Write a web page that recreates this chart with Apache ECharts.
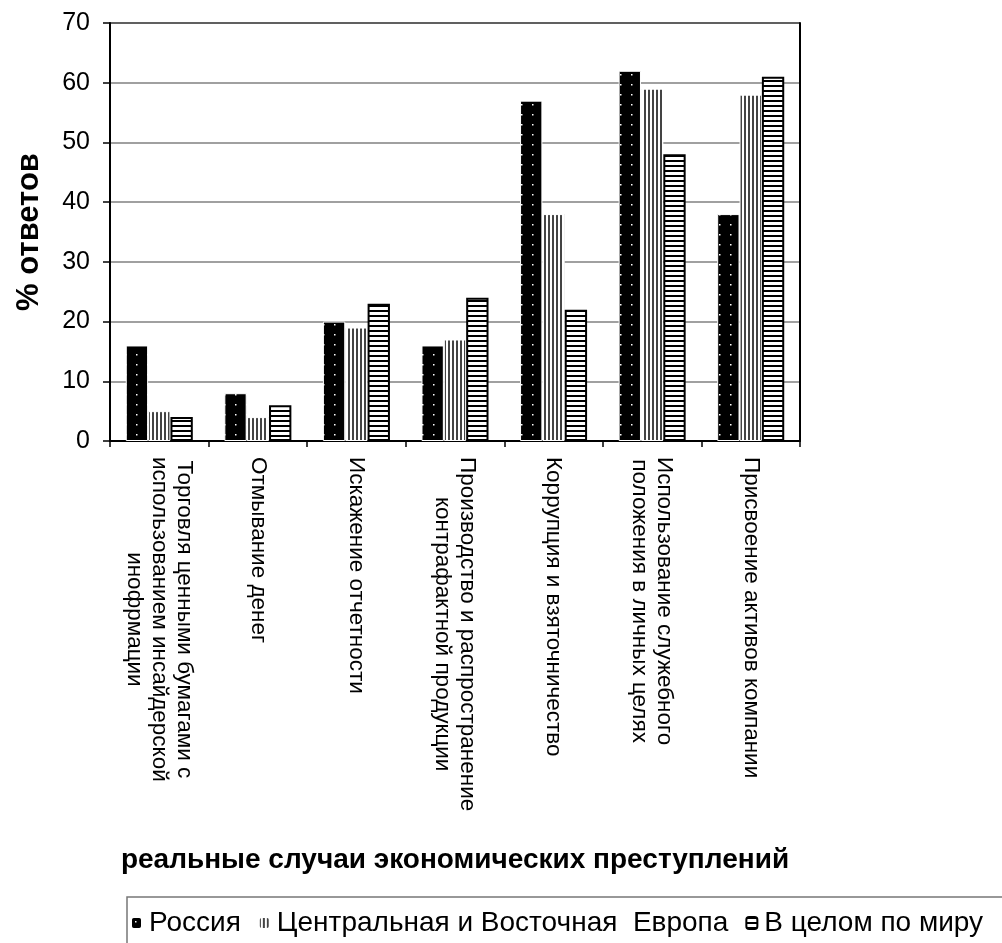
<!DOCTYPE html>
<html>
<head>
<meta charset="utf-8">
<script src="https://cdn.jsdelivr.net/npm/echarts@6/dist/echarts.min.js"></script>
<style>
  html, body { margin: 0; padding: 0; background: #fff; }
  #chart { width: 1002px; height: 943px; }
</style>
</head>
<body>
<div id="chart"></div>
<script>
// категории (подписи оси X)
var categories = [
    'Торговля ценными бумагами с\nиспользованием инсайдерской\nинофрмации',
    'Отмывание денег',
    'Искажение отчетности',
    'Производство и распространение\nконтрафактной продукции',
    'Коррупция и взяточничество',
    'Использование служебного\nположения в личных целях',
    'Присвоение активов компании'
];
var seriesNames = ['Россия', 'Центральная и Восточная  Европа', 'В целом по миру'];
var russia = [16, 8, 20, 16, 57, 62, 38];
var cee    = [5, 4, 19, 17, 38, 59, 58];
var world  = [4, 6, 23, 24, 22, 48, 61];
var yTicks = [0, 10, 20, 30, 40, 50, 60, 70];

// штриховки как в Excel
function makePattern(w, h, draw) {
    var c = document.createElement('canvas');
    c.width = w; c.height = h;
    var ctx = c.getContext('2d');
    draw(ctx, w, h);
    return { image: c, repeat: 'repeat' };
}
var dots = makePattern(11, 10, function (ctx, w, h) {
    ctx.fillStyle = '#000'; ctx.fillRect(0, 0, w, h);
    ctx.fillStyle = '#fff'; ctx.fillRect(4, 4, 1.5, 1.5);
});
var vLines = makePattern(4, 4, function (ctx, w, h) {
    ctx.fillStyle = '#fff'; ctx.fillRect(0, 0, w, h);
    ctx.fillStyle = '#444'; ctx.fillRect(0, 0, 2, h);
});
var hLines = makePattern(5, 5, function (ctx, w, h) {
    ctx.fillStyle = '#fff'; ctx.fillRect(0, 0, w, h);
    ctx.fillStyle = '#000'; ctx.fillRect(0, 0, w, 2);
});

var FONT = 'Liberation Sans';
var myChart = echarts.init(document.getElementById('chart'), null, { renderer: 'canvas' });

var option = {
    animation: false,
    backgroundColor: '#fff',
    grid: { left: 110, right: 202, top: 23, bottom: 502 },
    legend: {
        left: 125,
        top: 904,
        itemWidth: 11,
        itemHeight: 12,
        itemGap: 17,
        textStyle: { fontFamily: FONT, fontSize: 28, color: '#000', padding: [0, 0, 0, 2] },
        data: seriesNames
    },
    graphic: [{
        type: 'rect',
        shape: { x: 127, y: 897, width: 900, height: 60 },
        style: { fill: null, stroke: '#777', lineWidth: 1.5 },
        silent: true
    }, {
        // верхняя рамка области построения
        type: 'line',
        shape: { x1: 110, y1: 23, x2: 800, y2: 23 },
        style: { stroke: '#000', lineWidth: 2 },
        silent: true
    }],
    xAxis: {
        type: 'category',
        data: categories,
        name: 'реальные случаи экономических преступлений',
        nameLocation: 'middle',
        nameGap: 405,
        nameTextStyle: { fontFamily: FONT, fontSize: 28, fontWeight: 'bold', color: '#000' },
        axisLine: { lineStyle: { color: '#000', width: 2 } },
        axisTick: { show: true, length: 6, lineStyle: { color: '#000', width: 1.5 } },
        axisLabel: {
            interval: 0,
            rotate: -90,
            margin: 16,
            fontFamily: FONT,
            fontSize: 22.5,
            lineHeight: 25,
            color: '#000',
            formatter: function (v) {
                return v.split('\n').map(function (s) { return '{c|' + s + '}'; }).join('\n');
            },
            rich: { c: { align: 'center', fontFamily: FONT, fontSize: 22.5, lineHeight: 25, color: '#000' } }
        }
    },
    yAxis: [{
        type: 'value',
        min: yTicks[0],
        max: yTicks[yTicks.length - 1],
        interval: 10,
        name: '% ответов',
        nameLocation: 'middle',
        nameGap: 65,
        nameTextStyle: { fontFamily: FONT, fontSize: 31, fontWeight: 'bold', color: '#000' },
        axisLine: { show: true, lineStyle: { color: '#000', width: 2 } },
        axisTick: { show: true, length: 7, lineStyle: { color: '#000', width: 1.5 } },
        axisLabel: { fontFamily: FONT, fontSize: 25, color: '#000', margin: 20 },
        splitLine: { show: true, lineStyle: { color: '#808080', width: 1.5 } }
    }, {
        type: 'value',
        min: 0, max: 70, interval: 10,
        position: 'right',
        axisLine: { show: true, lineStyle: { color: '#000', width: 2 } },
        axisTick: { show: false },
        axisLabel: { show: false },
        splitLine: { show: false }
    }],
    series: [{
        name: seriesNames[0],
        type: 'bar',
        data: russia,
        barGap: '0%',
        barCategoryGap: '32%',
        itemStyle: { color: dots, borderColor: '#fff', borderWidth: 1 }
    }, {
        name: seriesNames[1],
        type: 'bar',
        data: cee,
        itemStyle: { color: vLines, borderColor: '#fff', borderWidth: 1 }
    }, {
        name: seriesNames[2],
        type: 'bar',
        data: world,
        itemStyle: { color: hLines, borderColor: '#000', borderWidth: 2 }
    }]
};
myChart.setOption(option);
</script>
</body>
</html>
